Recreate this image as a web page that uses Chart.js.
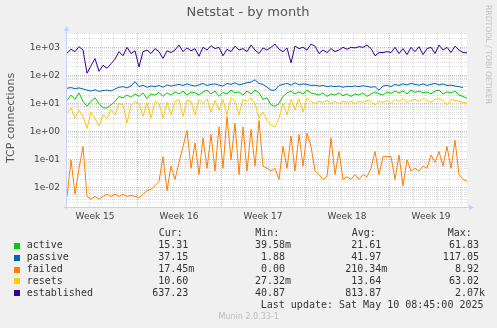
<!DOCTYPE html>
<html>
<head>
<meta charset="utf-8">
<script src="https://cdn.jsdelivr.net/npm/chart.js@4.4.1/dist/chart.umd.min.js"></script>
<style>
  html, body { margin: 0; padding: 0; background: #f0f0f0; }
  canvas { display: block; }
</style>
</head>
<body>
<canvas id="netstat" width="497" height="328"></canvas>
<script>
// samples every 8 hours, first one 2h after the left edge of the graph
const STEP_HOURS = 8;
const FIRST_HOUR = 2;
const SPAN_HOURS = 802;

const weekLabels = ["Week 15", "Week 16", "Week 17", "Week 18", "Week 19"];
const weekStarts = [142, 310, 478, 646];

const active = [
  13, 20, 14, 24, 12, 8, 12, 16, 10, 7, 7, 9, 12, 18, 16, 20, 17, 22,
  18, 24, 15, 22, 20, 25, 18, 24, 20, 26, 22, 28, 20, 26, 24, 20, 26, 30,
  22, 28, 18, 25, 22, 30, 24, 26, 20, 28, 22, 30, 24, 14, 16, 9, 8, 10,
  18, 24, 28, 22, 26, 22, 30, 24, 22, 20, 24, 18, 22, 20, 24, 19, 22, 18,
  22, 20, 24, 18, 22, 26, 22, 20, 26, 23, 28, 24, 28, 22, 30, 25, 28, 24,
  26, 22, 28, 30, 22, 26, 24, 28, 20, 18, 15.31
];
const passive = [
  35, 37, 34, 36, 33, 30, 28, 31, 27, 29, 30, 28, 33, 38, 40, 36, 42, 60,
  40, 45, 38, 42, 40, 44, 38, 46, 42, 45, 48, 44, 50, 45, 42, 46, 52, 44,
  48, 50, 45, 42, 52, 48, 55, 46, 50, 55, 58, 70, 52, 48, 38, 30, 30, 44,
  48, 52, 45, 55, 46, 50, 48, 44, 45, 42, 44, 40, 42, 40, 42, 38, 41, 40,
  42, 40, 43, 41, 38, 40, 30, 42, 45, 40, 48, 44, 50, 46, 52, 48, 45, 50,
  44, 48, 52, 46, 50, 44, 45, 42, 40, 37.15
];
const failed = [
  0.005, 0.1, 0.006, 0.05, 0.3, 0.005, 0.004, 0.005, 0.004, 0.005, 0.006,
  0.005, 0.006, 0.005, 0.006, 0.005, 0.0055, 0.005, 0.0045, 0.006, 0.008,
  0.009, 0.012, 0.017, 0.13, 0.008, 0.06, 0.02, 0.08, 0.3, 1.1, 0.05, 0.4,
  0.03, 0.6, 0.05, 0.8, 0.04, 1.5, 0.05, 3.5, 0.1, 2, 0.03, 1.5, 0.04, 1.2,
  0.06, 2.5, 0.06, 0.05, 0.04, 0.05, 0.02, 0.3, 0.05, 0.7, 0.04, 0.8, 0.06,
  0.9, 0.3, 0.04, 0.03, 0.02, 0.025, 0.6, 0.03, 0.2, 0.02, 0.025, 0.02,
  0.03, 0.02, 0.03, 0.025, 0.05, 0.2, 0.03, 0.13, 0.13, 0.13, 0.02, 0.15,
  0.012, 0.1, 0.04, 0.05, 0.04, 0.06, 0.05, 0.15, 0.08, 0.2, 0.06, 0.3,
  0.05, 0.5, 0.03, 0.02, 0.01745
];
const resets = [
  4.5, 7, 3, 6, 3.5, 1.3, 5, 3, 1.6, 4, 3, 6, 4, 10, 9, 2, 9, 12, 10, 3.5,
  11, 3, 12, 10, 3, 11, 4, 12, 14, 3.5, 13, 12, 4, 14, 10, 15, 5, 13, 6, 14,
  4, 16, 12, 4, 14, 12, 16, 10, 3, 5, 2.5, 1.7, 1.5, 3, 10, 4, 14, 6, 15, 5,
  16, 12, 10, 12, 11, 13, 10, 12, 10, 12, 11, 12, 10, 12, 11, 13, 12, 9, 12,
  11, 13, 10, 14, 12, 15, 11, 13, 14, 12, 15, 13, 11, 14, 15, 13, 9, 14, 13,
  12, 11, 10.6
];
const established = [
  620, 850, 700, 1050, 800, 120, 220, 400, 140, 230, 180, 260, 380, 700, 500,
  1000, 600, 750, 200, 700, 800, 600, 900, 700, 400, 750, 650, 800, 1200, 700,
  950, 750, 900, 480, 1000, 800, 1150, 900, 1000, 500, 850, 700, 1100, 800,
  900, 700, 1200, 800, 600, 950, 800, 1000, 1300, 850, 700, 950, 280, 1100,
  900, 1000, 800, 1300, 1100, 600, 800, 650, 900, 700, 800, 1000, 850, 1000,
  950, 1050, 1000, 1200, 900, 500, 650, 650, 700, 650, 1000, 600, 900, 550,
  1000, 700, 1050, 550, 900, 1000, 600, 1200, 800, 1000, 650, 1100, 800, 650,
  637.23
];

const seriesNames = ["active", "passive", "failed", "resets", "established"];
const seriesColors = ["#00cc00", "#0066b3", "#ff8000", "#ffcc00", "#330099"];
const curValues = ["15.31 ", "37.15 ", "17.45m", "10.60 ", "637.23 "];
const minValues = ["39.58m", " 1.88 ", " 0.00 ", "27.32m", "40.87 "];
const avgValues = ["21.61 ", "41.97 ", "210.34m", "13.64 ", "813.87 "];
const maxValues = ["61.83 ", "117.05 ", "8.92 ", "63.02 ", "2.07k"];

const toPoints = (vals) =>
  vals.map((v, i) => ({ x: FIRST_HOUR + i * STEP_HOURS, y: v }));

const MONO = "'DejaVu Sans Mono', monospace";
const SANS = "'DejaVu Sans', sans-serif";

// day grid lines plus one label slot in the middle of every week
const dayTicks = [];
for (let h = 22; h < SPAN_HOURS; h += 24) dayTicks.push(h);
const weekCenters = weekLabels.map((_, i) => weekStarts[0] - 84 + i * 168);

const decadeTicks = [];
for (let e = -3; e <= 3; e++) {
  for (let m = 1; m <= 9; m++) decadeTicks.push(m * Math.pow(10, e));
}
const isDecade = (v) => Math.abs(Math.log10(v) - Math.round(Math.log10(v))) < 1e-9;

const MINOR_GRID = "#dedede";
const MAJOR_GRID = "#eeb4b4";

const munin = {
  id: "munin",
  beforeDraw(chart) {
    const { ctx, chartArea: a } = chart;
    ctx.save();
    ctx.fillStyle = "#f0f0f0";
    ctx.fillRect(0, 0, chart.width, chart.height);
    ctx.fillStyle = "#ffffff";
    ctx.fillRect(a.left, a.top, a.right - a.left, a.bottom - a.top);
    ctx.restore();
  },
  afterDraw(chart) {
    const { ctx, chartArea: a } = chart;
    ctx.save();

    // axes with arrow heads
    ctx.strokeStyle = "#c8cff8";
    ctx.fillStyle = "#c8cff8";
    ctx.lineWidth = 1;
    ctx.beginPath();
    ctx.moveTo(a.left + 0.5, a.bottom + 2);
    ctx.lineTo(a.left + 0.5, a.top - 3);
    ctx.moveTo(a.left - 2, a.bottom + 0.5);
    ctx.lineTo(a.right + 3, a.bottom + 0.5);
    ctx.stroke();
    ctx.beginPath();
    ctx.moveTo(a.left - 2.5, a.top - 2);
    ctx.lineTo(a.left + 3.5, a.top - 2);
    ctx.lineTo(a.left + 0.5, a.top - 7);
    ctx.fill();
    ctx.beginPath();
    ctx.moveTo(a.right + 2, a.bottom - 2.5);
    ctx.lineTo(a.right + 2, a.bottom + 3.5);
    ctx.lineTo(a.right + 7, a.bottom + 0.5);
    ctx.fill();

    // title
    ctx.fillStyle = "#555555";
    ctx.font = "13px " + SANS;
    ctx.textAlign = "center";
    ctx.textBaseline = "middle";
    ctx.fillText("Netstat - by month", 248, 13);

    // vertical unit label
    ctx.save();
    ctx.translate(11, 118);
    ctx.rotate(-Math.PI / 2);
    ctx.font = "11px " + SANS;
    ctx.fillStyle = "#555555";
    ctx.fillText("TCP connections", 0, 0);
    ctx.restore();

    // rrdtool watermark
    ctx.save();
    ctx.translate(488, 5);
    ctx.rotate(Math.PI / 2);
    ctx.font = "7.7px " + SANS;
    ctx.fillStyle = "#c0c0c0";
    ctx.textAlign = "left";
    ctx.fillText("RRDTOOL / TOBI OETIKER", 0, 0);
    ctx.restore();

    // legend table
    ctx.font = "10px " + MONO;
    ctx.textBaseline = "middle";
    ctx.fillStyle = "#333333";
    ctx.textAlign = "left";
    ctx.fillText("Cur:", 158.7, 233.7);
    ctx.fillText("Min:", 255.3, 233.7);
    ctx.fillText("Avg:", 351.7, 233.7);
    ctx.fillText("Max:", 447.7, 233.7);
    const cols = [[curValues, 194.3], [minValues, 291], [avgValues, 387.3], [maxValues, 485]];
    seriesNames.forEach((name, i) => {
      const y = 245.7 + i * 11.9;
      ctx.fillStyle = seriesColors[i];
      ctx.fillRect(14, Math.round(y) - 3, 6, 6);
      ctx.fillStyle = "#333333";
      ctx.textAlign = "left";
      ctx.fillText(name, 26.7, y);
      ctx.textAlign = "right";
      cols.forEach(([vals, x]) => ctx.fillText(vals[i], x, y));
    });
    ctx.textAlign = "right";
    ctx.fillText("Last update: Sat May 10 08:45:00 2025", 483.5, 305.7);

    ctx.font = "8px " + SANS;
    ctx.fillStyle = "#bbbbbb";
    ctx.textAlign = "center";
    ctx.fillText("Munin 2.0.33-1", 248.7, 317.3);
    ctx.restore();
  }
};

new Chart(document.getElementById("netstat"), {
  type: "line",
  data: {
    datasets: seriesNames.map((name, i) => ({
      label: name,
      data: toPoints([active, passive, failed, resets, established][i]),
      borderColor: seriesColors[i],
      borderWidth: 1,
      pointRadius: 0,
      tension: 0,
      fill: false,
      order: 5 - i,
    })),
  },
  options: {
    responsive: false,
    animation: false,
    devicePixelRatio: 1,
    layout: { padding: { left: 0, right: 30, top: 33, bottom: 0 } },
    plugins: { legend: { display: false }, tooltip: { enabled: false } },
    scales: {
      x: {
        type: "linear",
        min: 0,
        max: SPAN_HOURS,
        afterFit: (s) => { s.height = 121; },
        afterBuildTicks: (s) => {
          s.ticks = dayTicks.concat(weekCenters).map((v) => ({ value: v }));
        },
        border: { display: false, dash: [1, 1] },
        grid: {
          drawTicks: false,
          color: (c) => {
            const v = c.tick && c.tick.value;
            if (weekCenters.includes(v)) return "rgba(0,0,0,0)";
            return weekStarts.includes(v) ? MAJOR_GRID : MINOR_GRID;
          },
        },
        ticks: {
          autoSkip: false,
          maxRotation: 0,
          padding: 4,
          color: "#444444",
          font: { family: SANS, size: 9 },
          callback: (v) => {
            const k = weekCenters.indexOf(v);
            return k >= 0 ? weekLabels[k] : "";
          },
        },
      },
      y: {
        type: "logarithmic",
        min: 0.00211,
        max: 3222,
        afterFit: (s) => { s.width = 66; },
        afterBuildTicks: (s) => {
          s.ticks = decadeTicks
            .filter((v) => v >= s.min && v <= s.max)
            .map((v) => ({ value: v }));
        },
        border: { display: false, dash: [1, 1] },
        grid: {
          drawTicks: false,
          color: (c) => (c.tick && isDecade(c.tick.value) ? MAJOR_GRID : MINOR_GRID),
        },
        ticks: {
          autoSkip: false,
          padding: 6,
          color: "#444444",
          font: { family: SANS, size: 9 },
          callback: (v) => {
            if (!isDecade(v)) return "";
            const e = Math.round(Math.log10(v));
            return "1e" + (e < 0 ? "-" : "+") + String(Math.abs(e)).padStart(2, "0");
          },
        },
      },
    },
  },
  plugins: [munin],
});
</script>
</body>
</html>
